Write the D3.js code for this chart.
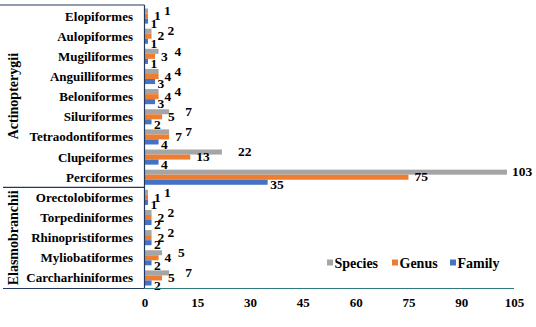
<!DOCTYPE html>
<html>
<head>
<meta charset="utf-8">
<script src="https://cdn.jsdelivr.net/npm/d3@7"></script>
<style>
  html, body { margin: 0; padding: 0; background: #fff; }
</style>
</head>
<body>
<svg id="chart" width="536" height="327"></svg>
<script>
// Orders, top to bottom
const orders = [
  "Elopiformes", "Aulopiformes", "Mugiliformes", "Anguilliformes", "Beloniformes",
  "Siluriformes", "Tetraodontiformes", "Clupeiformes", "Perciformes",
  "Orectolobiformes", "Torpediniformes", "Rhinopristiformes", "Myliobatiformes", "Carcharhiniformes"
];
const classes = [
  { name: "Actinopterygii", first: "Elopiformes", last: "Perciformes" },
  { name: "Elasmobranchii", first: "Orectolobiformes", last: "Carcharhiniformes" }
];
const species = [1, 2, 4, 4, 4, 7, 7, 22, 103, 1, 2, 2, 5, 7];
const genus   = [1, 2, 3, 4, 4, 5, 7, 13, 75, 1, 2, 2, 4, 5];
const family  = [1, 1, 1, 3, 3, 2, 4, 4, 35, 1, 2, 2, 2, 2];
const seriesNames = ["Species", "Genus", "Family"];
const seriesColors = ["#A5A5A5", "#ED7D31", "#4472C4"];
const xTicks = [0, 15, 30, 45, 60, 75, 90, 105];

const seriesValues = { Species: species, Genus: genus, Family: family };
const FONT = "'Liberation Serif'";
const svg = d3.select("#chart");
const W = 536;

const x = d3.scaleLinear().domain([0, 105]).range([144.5, 514]);
const y = d3.scaleBand().domain(orders).range([6, 288]).paddingInner(0.25).paddingOuter(0.125);
const sub = d3.scaleBand().domain(seriesNames).range([0, y.bandwidth()]);

// bars
const rows = svg.append("g").selectAll("g").data(orders).join("g")
  .attr("transform", d => `translate(0,${y(d)})`);

seriesNames.forEach((s, si) => {
  rows.append("rect")
    .attr("x", x(0))
    .attr("y", sub(s))
    .attr("height", sub.bandwidth())
    .attr("width", (d, i) => x(seriesValues[s][i]) - x(0))
    .attr("fill", seriesColors[si]);
});

// value labels
const labelDx = { Species: 16, Genus: 6, Family: 2.5 };
const labelDy = { Species: -0.5, Genus: -0.5, Family: 2 };
seriesNames.forEach(s => {
  rows.append("text")
    .attr("x", (d, i) => Math.min(x(seriesValues[s][i]) + labelDx[s], W - 24))
    .attr("y", sub(s) + sub.bandwidth() / 2 + labelDy[s])
    .attr("dy", "0.35em")
    .attr("font-size", 13.5)
    .attr("fill", "#000")
    .text((d, i) => seriesValues[s][i]);
});

// category axis labels
svg.append("g").selectAll("text").data(orders).join("text")
  .attr("x", 133)
  .attr("y", d => y(d) + y.bandwidth() / 2)
  .attr("dy", "0.35em")
  .attr("text-anchor", "end")
  .attr("font-size", 13)
  .text(d => d);

// class frame lines
const navy = "#22385f";
const topY = y(orders[0]) - y.step() * y.paddingOuter() - 1;
const bottomY = 288.5;
svg.append("line").attr("x1", 0).attr("x2", 144.5).attr("y1", topY).attr("y2", topY)
  .attr("stroke", navy).attr("stroke-width", 1.2);
const sepY = (y("Perciformes") + y.bandwidth() + y("Orectolobiformes")) / 2;
svg.append("line").attr("x1", 3).attr("x2", 144.5).attr("y1", sepY).attr("y2", sepY)
  .attr("stroke", navy).attr("stroke-width", 1.2);
svg.append("line").attr("x1", 3).attr("x2", 144.5).attr("y1", bottomY).attr("y2", bottomY)
  .attr("stroke", navy).attr("stroke-width", 1.2);
svg.append("line").attr("x1", 144.5).attr("x2", x(105)).attr("y1", bottomY).attr("y2", bottomY)
  .attr("stroke", "#2f7a80").attr("stroke-width", 1.2);
svg.append("line").attr("x1", 144.5).attr("x2", 144.5).attr("y1", topY).attr("y2", bottomY)
  .attr("stroke", navy).attr("stroke-width", 1.2);

// class labels (rotated)
const bounds = [[topY, sepY], [sepY, bottomY]];
classes.forEach((c, i) => {
  const cy = (bounds[i][0] + bounds[i][1]) / 2;
  svg.append("text")
    .attr("transform", `translate(13,${cy}) rotate(-90)`)
    .attr("text-anchor", "middle")
    .attr("dy", "0.35em")
    .attr("font-size", 14)
    .text(c.name);
});

// x axis tick labels
const xAxis = d3.axisBottom(x).tickValues(xTicks).tickSize(0).tickPadding(9);
const gx = svg.append("g").attr("transform", `translate(0,${bottomY})`).call(xAxis);
gx.select(".domain").remove();
gx.selectAll("text").attr("font-size", 13).attr("fill", "#000");

// legend
const legend = svg.append("g").attr("transform", "translate(327,263)");
const legX = [0, 65, 123];
seriesNames.forEach((s, i) => {
  const g = legend.append("g").attr("transform", `translate(${legX[i]},0)`);
  g.append("rect").attr("x", 0).attr("y", -3.5).attr("width", 6).attr("height", 6).attr("fill", seriesColors[i]);
  g.append("text").attr("x", 7.5).attr("dy", "0.35em").attr("font-size", 14).text(s);
});

// typeface for every label
svg.selectAll("text").style("font-family", FONT).style("font-weight", "bold");
</script>
</body>
</html>
